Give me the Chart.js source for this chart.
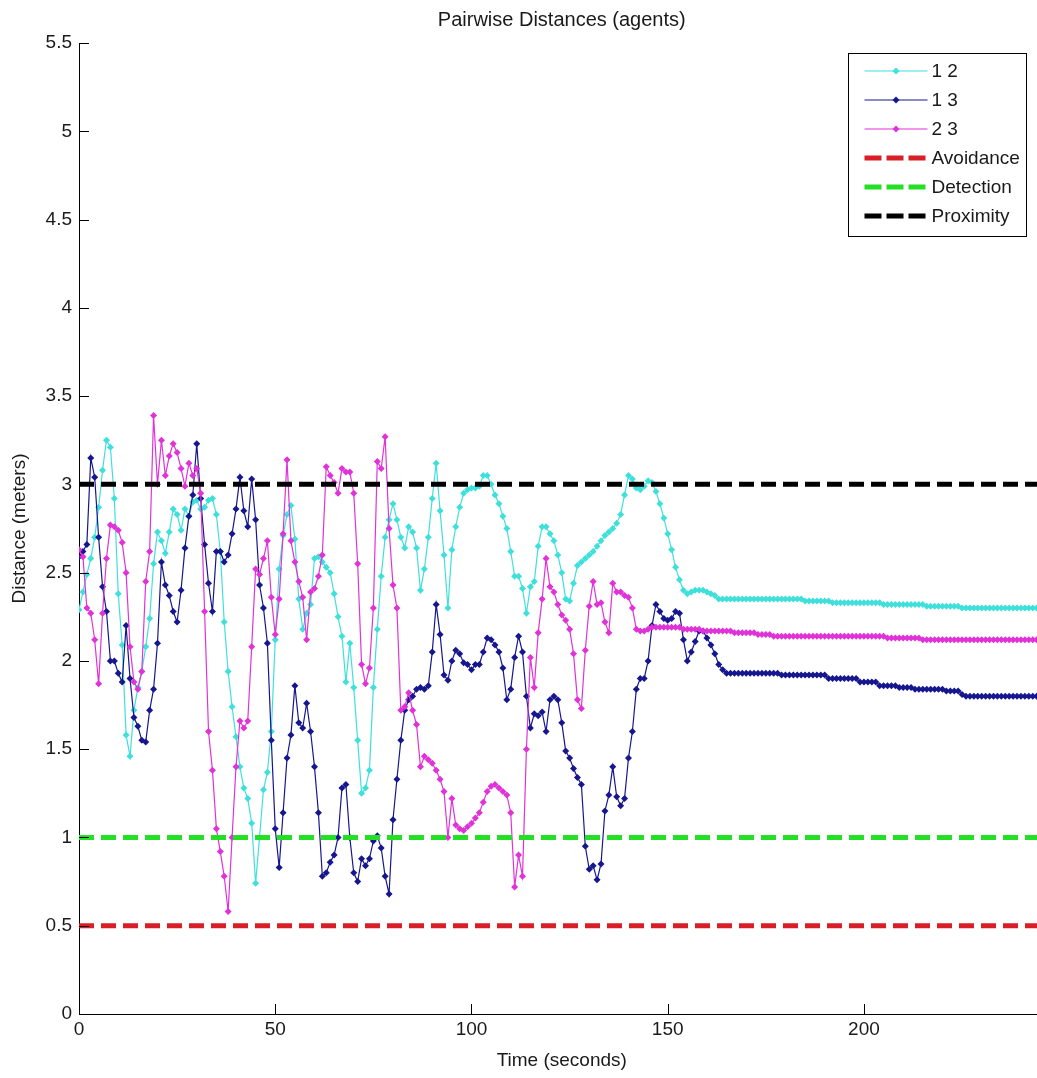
<!DOCTYPE html>
<html lang="en">

<head>
    <meta charset="UTF-8">
    <title>Pairwise Distances (agents)</title>
    <style>
        html, body {
            margin: 0;
            padding: 0;
            background: #ffffff;
            overflow: hidden;
        }

        canvas {
            display: block;
        }
    </style>
</head>

<body>
    <canvas id="distances" width="1048" height="1078"></canvas>

    <script src="https://cdn.jsdelivr.net/npm/chart.js"></script>
    <script>
        // Sample times (seconds), one sample per second
        const TIME = Array.from({ length: 246 }, (_, i) => i);

        // Distance between agents 1 and 2 (meters)
        const D12 = [
            2.29, 2.39, 2.49, 2.58, 2.70, 2.87, 3.08, 3.25, 3.21, 2.92,
            2.38, 2.09, 1.58, 1.46, 1.72, 1.85, 1.94, 2.08, 2.24, 2.55,
            2.73, 2.68, 2.61, 2.73, 2.86, 2.83, 2.74, 2.86, 2.82, 2.90,
            2.91, 2.86, 2.87, 2.91, 2.92, 2.83, 2.62, 2.22, 1.94, 1.74,
            1.57, 1.40, 1.28, 1.22, 1.08, 0.74, 1.00, 1.27, 1.37, 1.60,
            2.12, 2.52, 2.71, 2.83, 2.88, 2.69, 2.35, 2.18, 2.27, 2.32,
            2.58, 2.59, 2.56, 2.53, 2.50, 2.38, 2.25, 2.14, 1.88, 2.10,
            1.85, 1.55, 1.25, 1.28, 1.38, 1.85, 2.18, 2.48, 2.70, 2.80,
            2.89, 2.80, 2.70, 2.64, 2.76, 2.73, 2.64, 2.40, 2.52, 2.70,
            2.92, 3.12, 2.85, 2.60, 2.30, 2.63, 2.76, 2.87, 2.95, 2.97,
            2.98, 2.98, 2.99, 3.05, 3.05, 3.00, 2.94, 2.89, 2.82, 2.75,
            2.62, 2.48, 2.48, 2.41, 2.27, 2.42, 2.45, 2.65, 2.76, 2.76,
            2.72, 2.68, 2.60, 2.50, 2.35, 2.34, 2.44, 2.54, 2.56, 2.58,
            2.60, 2.62, 2.65, 2.68, 2.71, 2.73, 2.75, 2.78, 2.83, 2.94,
            3.05, 3.03, 2.98, 2.97, 2.99, 3.02, 3.01, 2.96, 2.89, 2.81,
            2.72, 2.63, 2.53, 2.46, 2.40, 2.38, 2.39, 2.40, 2.40, 2.40,
            2.39, 2.38, 2.37, 2.35, 2.35, 2.35, 2.35, 2.35, 2.35, 2.35,
            2.35, 2.35, 2.35, 2.35, 2.35, 2.35, 2.35, 2.35, 2.35, 2.35,
            2.35, 2.35, 2.35, 2.35, 2.35, 2.34, 2.34, 2.34, 2.34, 2.34,
            2.34, 2.34, 2.33, 2.33, 2.33, 2.33, 2.33, 2.33, 2.33, 2.33,
            2.33, 2.33, 2.33, 2.33, 2.33, 2.32, 2.32, 2.32, 2.32, 2.32,
            2.32, 2.32, 2.32, 2.32, 2.32, 2.32, 2.31, 2.31, 2.31, 2.31,
            2.31, 2.31, 2.31, 2.31, 2.31, 2.30, 2.30, 2.30, 2.30, 2.30,
            2.30, 2.30, 2.30, 2.30, 2.30, 2.30, 2.30, 2.30, 2.30, 2.30,
            2.30, 2.30, 2.30, 2.30, 2.30, 2.30
        ];

        // Distance between agents 1 and 3 (meters)
        const D13 = [
            2.59, 2.62, 2.66, 3.15, 3.04, 2.70, 2.42, 2.28, 2.00, 2.00,
            1.93, 1.88, 2.20, 1.90, 1.68, 1.63, 1.55, 1.54, 1.72, 1.84,
            2.10, 2.56, 2.43, 2.37, 2.28, 2.22, 2.40, 2.64, 2.82, 2.94,
            3.23, 2.92, 2.66, 2.44, 2.28, 2.62, 2.62, 2.56, 2.60, 2.72,
            2.86, 3.04, 2.85, 2.76, 3.03, 2.80, 2.43, 2.30, 2.10, 1.55,
            1.05, 0.83, 1.14, 1.45, 1.58, 1.86, 1.65, 1.62, 1.76, 1.60,
            1.40, 1.14, 0.78, 0.80, 0.86, 0.90, 1.00, 1.28, 1.30, 1.00,
            0.80, 0.75, 0.88, 0.84, 0.88, 0.98, 1.01, 0.94, 0.78, 0.68,
            1.10, 1.33, 1.55, 1.72, 1.78, 1.80, 1.84, 1.85, 1.84, 1.86,
            2.05, 2.32, 2.15, 1.92, 1.89, 2.00, 2.06, 2.04, 1.99, 1.98,
            1.95, 1.98, 1.98, 2.05, 2.13, 2.12, 2.09, 2.05, 1.96, 1.78,
            1.84, 2.02, 2.14, 2.05, 1.80, 1.62, 1.70, 1.69, 1.71, 1.60,
            1.78, 1.80, 1.78, 1.65, 1.49, 1.45, 1.39, 1.34, 1.30, 0.95,
            0.82, 0.84, 0.76, 0.85, 1.15, 1.24, 1.40, 1.23, 1.18, 1.22,
            1.45, 1.60, 1.84, 1.90, 1.90, 2.00, 2.20, 2.32, 2.28, 2.24,
            2.23, 2.24, 2.28, 2.27, 2.12, 2.00, 2.05, 2.11, 2.17, 2.17,
            2.13, 2.09, 2.04, 1.98, 1.95, 1.93, 1.93, 1.93, 1.93, 1.93,
            1.93, 1.93, 1.93, 1.93, 1.93, 1.93, 1.93, 1.93, 1.93, 1.92,
            1.92, 1.92, 1.92, 1.92, 1.92, 1.92, 1.92, 1.92, 1.92, 1.92,
            1.92, 1.90, 1.90, 1.90, 1.90, 1.90, 1.90, 1.90, 1.90, 1.88,
            1.88, 1.88, 1.88, 1.88, 1.86, 1.86, 1.86, 1.86, 1.86, 1.85,
            1.85, 1.85, 1.85, 1.84, 1.84, 1.84, 1.84, 1.84, 1.84, 1.84,
            1.84, 1.83, 1.83, 1.83, 1.83, 1.81, 1.80, 1.80, 1.80, 1.80,
            1.80, 1.80, 1.80, 1.80, 1.80, 1.80, 1.80, 1.80, 1.80, 1.80,
            1.80, 1.80, 1.80, 1.80, 1.80, 1.80
        ];

        // Distance between agents 2 and 3 (meters)
        const D23 = [
            2.63, 2.59, 2.30, 2.27, 2.12, 1.87, 2.27, 2.58, 2.77, 2.76,
            2.74, 2.67, 2.50, 2.08, 1.88, 1.84, 1.94, 2.45, 2.62, 3.39,
            3.00, 3.25, 3.05, 3.16, 3.23, 3.18, 3.09, 2.99, 3.12, 3.05,
            3.09, 2.95, 2.28, 1.60, 1.38, 1.05, 0.92, 0.78, 0.58, 1.00,
            1.40, 1.66, 1.62, 1.66, 2.08, 2.52, 2.49, 2.58, 2.68, 2.36,
            2.15, 2.35, 2.72, 3.14, 2.68, 2.56, 2.45, 2.36, 2.12, 2.39,
            2.41, 2.48, 2.60, 3.10, 3.05, 3.01, 2.95, 3.09, 3.07, 3.07,
            2.95, 2.55, 1.98, 1.87, 1.96, 2.30, 3.13, 3.09, 3.27, 2.75,
            2.43, 2.30, 1.72, 1.74, 1.82, 1.72, 1.64, 1.40, 1.46, 1.44,
            1.42, 1.38, 1.33, 1.26, 1.00, 1.22, 1.07, 1.05, 1.04, 1.06,
            1.08, 1.11, 1.14, 1.20, 1.26, 1.29, 1.30, 1.28, 1.26, 1.24,
            1.14, 0.72, 0.90, 0.78, 1.50, 2.02, 1.85, 2.16, 2.35, 2.58,
            2.42, 2.39, 2.32, 2.26, 2.23, 2.18, 2.04, 1.78, 1.73, 2.06,
            2.31, 2.45, 2.32, 2.33, 2.22, 2.16, 2.44, 2.39, 2.39, 2.37,
            2.36, 2.30, 2.18, 2.17, 2.17, 2.18, 2.19, 2.19, 2.19, 2.19,
            2.19, 2.19, 2.19, 2.19, 2.18, 2.18, 2.18, 2.18, 2.18, 2.17,
            2.17, 2.17, 2.17, 2.17, 2.17, 2.17, 2.17, 2.16, 2.16, 2.16,
            2.16, 2.16, 2.16, 2.15, 2.15, 2.15, 2.15, 2.14, 2.14, 2.14,
            2.14, 2.14, 2.14, 2.14, 2.14, 2.14, 2.14, 2.14, 2.14, 2.14,
            2.14, 2.14, 2.14, 2.14, 2.14, 2.14, 2.14, 2.14, 2.14, 2.14,
            2.14, 2.14, 2.14, 2.14, 2.14, 2.14, 2.13, 2.13, 2.13, 2.13,
            2.13, 2.13, 2.13, 2.13, 2.13, 2.12, 2.12, 2.12, 2.12, 2.12,
            2.12, 2.12, 2.12, 2.12, 2.12, 2.12, 2.12, 2.12, 2.12, 2.12,
            2.12, 2.12, 2.12, 2.12, 2.12, 2.12, 2.12, 2.12, 2.12, 2.12,
            2.12, 2.12, 2.12, 2.12, 2.12, 2.12
        ];

        // Threshold distances (meters)
        const AVOIDANCE = 0.5;
        const DETECTION = 1;
        const PROXIMITY = 3;

        const FONT = "'Liberation Sans', Arial, sans-serif";
        const TEXT = '#1a1a1a';

        function series(label, values, color, order) {
            return {
                label: label,
                data: TIME.map((t, i) => ({ x: t, y: values[i] })),
                borderColor: color,
                backgroundColor: color,
                borderWidth: 1.2,
                pointStyle: 'rectRot',
                pointRadius: 3.5,
                pointBorderWidth: 0,
                pointHoverRadius: 3.5,
                tension: 0,
                order: order
            };
        }

        function threshold(label, level, color) {
            return {
                label: label,
                data: [{ x: TIME[0], y: level }, { x: TIME[TIME.length - 1], y: level }],
                borderColor: color,
                backgroundColor: color,
                borderWidth: 5,
                borderDash: [15, 7],
                pointRadius: 0,
                pointHoverRadius: 0,
                order: 0
            };
        }

        // tick marks pointing into the plot area
        const innerTicks = {
            id: 'innerTicks',
            afterDatasetsDraw(chart) {
                const { ctx, chartArea, scales: { x, y } } = chart;
                ctx.save();
                ctx.strokeStyle = '#000';
                ctx.lineWidth = 1;
                ctx.beginPath();
                y.ticks.forEach(t => {
                    const py = Math.round(y.getPixelForValue(t.value)) + 0.5;
                    ctx.moveTo(chartArea.left, py);
                    ctx.lineTo(chartArea.left + 10, py);
                });
                x.ticks.forEach(t => {
                    const px = Math.round(x.getPixelForValue(t.value)) + 0.5;
                    ctx.moveTo(px, chartArea.bottom);
                    ctx.lineTo(px, chartArea.bottom - 10);
                });
                ctx.stroke();
                ctx.restore();
            }
        };

        // boxed legend in the upper right corner, line sample + marker per entry
        const boxLegend = {
            id: 'boxLegend',
            afterDraw(chart) {
                const { ctx, chartArea } = chart;
                const items = chart.data.datasets.slice().sort((a, b) => a.legendIndex - b.legendIndex);
                const width = 178, rowH = 29;
                const height = items.length * rowH + 9;
                const left = chartArea.right - 19 - width;
                const top = chartArea.top + 10;

                ctx.save();
                ctx.fillStyle = '#ffffff';
                ctx.fillRect(left, top, width, height);
                ctx.strokeStyle = '#000';
                ctx.lineWidth = 1;
                ctx.strokeRect(Math.round(left) + 0.5, Math.round(top) + 0.5, width, height);

                ctx.font = '19px ' + FONT;
                ctx.textBaseline = 'middle';
                items.forEach((ds, i) => {
                    const cy = top + 18 + i * rowH;
                    const x0 = left + 17, x1 = left + 80;
                    ctx.strokeStyle = ds.borderColor;
                    ctx.lineWidth = ds.borderWidth;
                    ctx.setLineDash(ds.borderDash ? [17, 5] : []);
                    ctx.beginPath();
                    ctx.moveTo(x0, cy);
                    ctx.lineTo(x1, cy);
                    ctx.stroke();
                    ctx.setLineDash([]);
                    if (ds.pointRadius > 0) {
                        const mx = (x0 + x1) / 2, r = ds.pointRadius;
                        ctx.fillStyle = ds.backgroundColor;
                        ctx.beginPath();
                        ctx.moveTo(mx, cy - r);
                        ctx.lineTo(mx + r, cy);
                        ctx.lineTo(mx, cy + r);
                        ctx.lineTo(mx - r, cy);
                        ctx.closePath();
                        ctx.fill();
                    }
                    ctx.fillStyle = TEXT;
                    ctx.fillText(ds.label, x1 + 4, cy + 1);
                });
                ctx.restore();
            }
        };

        const datasets = [
            Object.assign(series('1 2', D12, '#3fe0dc', 3), { legendIndex: 0 }),
            Object.assign(series('1 3', D13, '#16168e', 2), { legendIndex: 1 }),
            Object.assign(series('2 3', D23, '#e032d8', 1), { legendIndex: 2 }),
            Object.assign(threshold('Avoidance', AVOIDANCE, '#d81e26'), { legendIndex: 3 }),
            Object.assign(threshold('Detection', DETECTION, '#24e024'), { legendIndex: 4 }),
            Object.assign(threshold('Proximity', PROXIMITY, '#000000'), { legendIndex: 5 })
        ];

        new Chart(document.getElementById('distances').getContext('2d'), {
            type: 'line',
            data: { datasets: datasets },
            options: {
                responsive: false,
                animation: false,
                devicePixelRatio: 1,
                events: [],
                layout: { padding: { left: 0, right: 1.5, top: 0, bottom: 0 } },
                plugins: {
                    legend: { display: false },
                    tooltip: { enabled: false },
                    title: {
                        display: true,
                        text: 'Pairwise Distances (agents)',
                        fullSize: false,
                        color: TEXT,
                        font: { family: FONT, size: 20, weight: 'normal' },
                        padding: { top: 8, bottom: 11 }
                    }
                },
                scales: {
                    x: {
                        type: 'linear',
                        min: 0,
                        max: 246,
                        grid: { display: false, drawTicks: false },
                        border: { display: true, color: '#000', width: 1 },
                        ticks: {
                            stepSize: 50,
                            includeBounds: false,
                            maxRotation: 0,
                            padding: 4,
                            color: TEXT,
                            font: { family: FONT, size: 19 }
                        },
                        title: {
                            display: true,
                            text: 'Time (seconds)',
                            color: TEXT,
                            font: { family: FONT, size: 19 },
                            padding: { top: 0, bottom: 6 }
                        },
                        afterFit(scale) { scale.height = 64; }
                    },
                    y: {
                        type: 'linear',
                        min: 0,
                        max: 5.5,
                        grid: { display: false, drawTicks: false },
                        border: { display: true, color: '#000', width: 1 },
                        ticks: {
                            stepSize: 0.5,
                            padding: 7,
                            color: TEXT,
                            font: { family: FONT, size: 19 },
                            callback: v => String(v)
                        },
                        title: {
                            display: true,
                            text: 'Distance (meters)',
                            color: TEXT,
                            font: { family: FONT, size: 19 },
                            padding: { top: 8, bottom: 0 }
                        },
                        afterFit(scale) { scale.width = 79; }
                    }
                }
            },
            plugins: [innerTicks, boxLegend]
        });
    </script>
</body>

</html>
